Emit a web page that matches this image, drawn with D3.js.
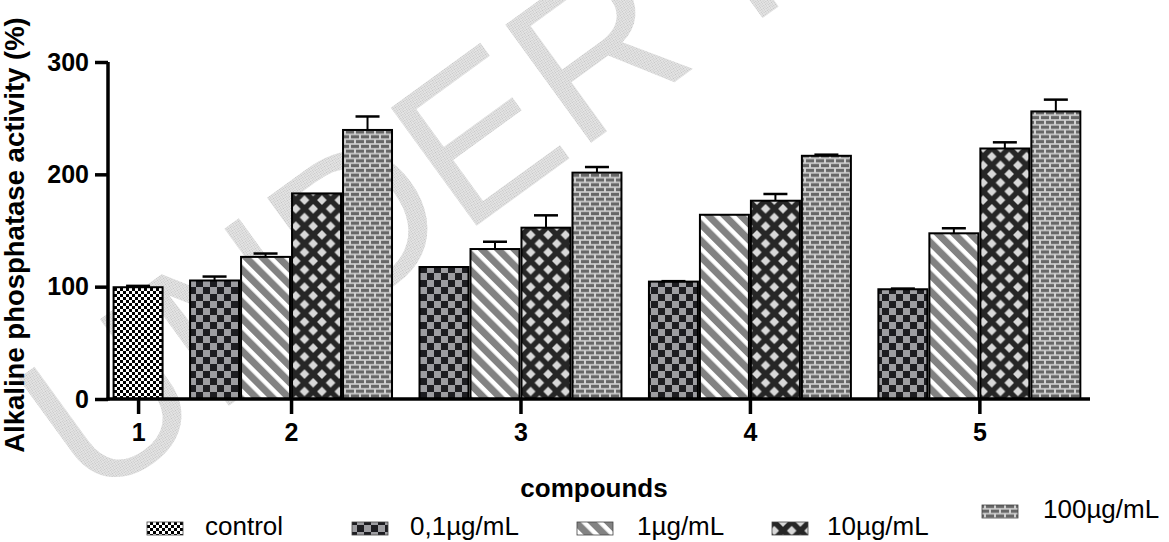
<!DOCTYPE html>
<html>
<head>
<meta charset="utf-8">
<script src="https://cdn.jsdelivr.net/npm/d3@7"></script>
<style>
  html, body { margin: 0; padding: 0; background: #fff; }
  svg { display: block; font-family: "Liberation Sans", Arial, sans-serif; }
</style>
</head>
<body>
<svg id="chart" width="1169" height="542"></svg>
<script>
// ---------------- data ----------------
const compounds = ["1", "2", "3", "4", "5"];
const seriesNames = ["control", "0,1µg/mL", "1µg/mL", "10µg/mL", "100µg/mL"];
// control only measured for compound 1
const controlValues = [99.5, null, null, null, null];
const controlErrors = [1.2, null, null, null, null];
const conc01Values = [null, 105.5, 117.5, 104.5, 97.7];
const conc01Errors = [null, 3.5, 0, 0.4, 0.6];
const conc1Values = [null, 126.5, 133.5, 164, 147.5];
const conc1Errors = [null, 3, 6.5, 0, 4.5];
const conc10Values = [null, 183, 152.5, 176.5, 223];
const conc10Errors = [null, 0, 11, 6, 5.5];
const conc100Values = [null, 239.5, 201.5, 216.5, 256];
const conc100Errors = [null, 12, 5, 1, 10.5];
const yTicks = [0, 100, 200, 300];
const xTitle = "compounds";
const yTitle = "Alkaline phosphatase activity (%)";
const watermark = "UNDER PEER REVIEW";

const seriesValues = [controlValues, conc01Values, conc1Values, conc10Values, conc100Values];
const seriesErrors = [controlErrors, conc01Errors, conc1Errors, conc10Errors, conc100Errors];
const patternIds = ["pControl", "pChecker", "pStripe", "pDiamond", "pBrick"];

// flatten into bar slots (unit positions along x)
const bars = [];
const groupCenters = [];
let pos = 0;
compounds.forEach((c, ci) => {
  const start = pos;
  seriesNames.forEach((s, si) => {
    const v = seriesValues[si][ci];
    if (v !== null && v !== undefined) {
      bars.push({ compound: c, series: si, value: v, err: seriesErrors[si][ci], unit: pos });
      pos += 1;
    }
  });
  groupCenters.push({ label: c, unit: (start + pos) / 2 });
  pos += 0.5; // gap between compounds
});
const totalUnits = pos - 0.5;

// ---------------- layout ----------------
const svg = d3.select("#chart");
const axisX0 = 108, axisX1 = 1090, axisY0 = 399, axisY1 = 62;

const x = d3.scaleLinear().domain([-0.09, totalUnits + 0.17]).range([axisX0, axisX1]);
const y = d3.scaleLinear().domain([0, 300]).range([axisY0, axisY1]);
const unitPx = x(1) - x(0);
const barPad = 1;

// ---------------- patterns ----------------
const defs = svg.append("defs");
// watermark stipple
const pw = defs.append("pattern").attr("id", "pWater").attr("patternUnits", "userSpaceOnUse")
  .attr("width", 2).attr("height", 2);
pw.append("rect").attr("width", 2).attr("height", 2).attr("fill", "#e4e4e4");
pw.append("rect").attr("width", 1).attr("height", 1).attr("fill", "#c2c2c2");

// control: fine black/white checker
const p0 = defs.append("pattern").attr("id", "pControl").attr("patternUnits", "userSpaceOnUse")
  .attr("width", 6).attr("height", 6);
p0.append("rect").attr("width", 6).attr("height", 6).attr("fill", "#fff");
p0.append("rect").attr("width", 3).attr("height", 3).attr("fill", "#000");
p0.append("rect").attr("x", 3).attr("y", 3).attr("width", 3).attr("height", 3).attr("fill", "#000");

// 0,1: dark / gray checker
const p1 = defs.append("pattern").attr("id", "pChecker").attr("patternUnits", "userSpaceOnUse")
  .attr("width", 14).attr("height", 14);
p1.append("rect").attr("width", 14).attr("height", 14).attr("fill", "#9d9da1");
p1.append("rect").attr("width", 7).attr("height", 7).attr("fill", "#1d1d21");
p1.append("rect").attr("x", 7).attr("y", 7).attr("width", 7).attr("height", 7).attr("fill", "#1d1d21");

// 1: diagonal stripes "\"
const p2 = defs.append("pattern").attr("id", "pStripe").attr("patternUnits", "userSpaceOnUse")
  .attr("width", 11.5).attr("height", 11.5).attr("patternTransform", "rotate(-45)");
p2.append("rect").attr("width", 11.5).attr("height", 11.5).attr("fill", "#fff");
p2.append("rect").attr("width", 7).attr("height", 11.5).attr("fill", "#828282");

// 10: dark with light diamonds
const dS = 17.4, dH = 4.8;
const p3 = defs.append("pattern").attr("id", "pDiamond").attr("patternUnits", "userSpaceOnUse")
  .attr("width", dS).attr("height", dS);
p3.append("rect").attr("width", dS).attr("height", dS).attr("fill", "#262626");
[[0, 0], [dS, 0], [0, dS], [dS, dS], [dS / 2, dS / 2]].forEach(([cx, cy]) => {
  p3.append("path").attr("d", `M${cx},${cy - dH}L${cx + dH},${cy}L${cx},${cy + dH}L${cx - dH},${cy}Z`)
    .attr("fill", "#d8d8d8");
});

// 100: bricks
const bW = 20, bHt = 9.6;
const p4 = defs.append("pattern").attr("id", "pBrick").attr("patternUnits", "userSpaceOnUse")
  .attr("width", bW).attr("height", bHt);
p4.append("rect").attr("width", bW).attr("height", bHt).attr("fill", "#d0d0d0");
[[1, 0.8], [11, 0.8], [-4, 5.6], [6, 5.6], [16, 5.6]].forEach(([bx, by]) => {
  p4.append("rect").attr("x", bx).attr("y", by).attr("width", 8).attr("height", 3.2).attr("fill", "#676767");
});

// ---------------- watermark ----------------
svg.append("text")
  .attr("transform", "translate(91,506) rotate(-36)")
  .attr("font-size", 212)
  .attr("fill", "url(#pWater)")
  .text(watermark);

// ---------------- bars ----------------
const barG = svg.append("g");
barG.selectAll("rect.bar").data(bars).enter().append("rect")
  .attr("class", "bar")
  .attr("x", d => x(d.unit) + barPad)
  .attr("width", unitPx - 2 * barPad)
  .attr("y", d => y(d.value))
  .attr("height", d => y(0) - y(d.value))
  .attr("fill", d => `url(#${patternIds[d.series]})`)
  .attr("stroke", "#000")
  .attr("stroke-width", 2);

// error bars (upper only)
const errBars = bars.filter(d => d.err > 0);
const capW = 24;
barG.selectAll("line.err").data(errBars).enter().append("line")
  .attr("x1", d => x(d.unit + 0.5)).attr("x2", d => x(d.unit + 0.5))
  .attr("y1", d => y(d.value)).attr("y2", d => y(d.value + d.err))
  .attr("stroke", "#000").attr("stroke-width", 2);
barG.selectAll("line.cap").data(errBars).enter().append("line")
  .attr("x1", d => x(d.unit + 0.5) - capW / 2).attr("x2", d => x(d.unit + 0.5) + capW / 2)
  .attr("y1", d => y(d.value + d.err)).attr("y2", d => y(d.value + d.err))
  .attr("stroke", "#000").attr("stroke-width", 2.5);

// ---------------- axes ----------------
const yAxis = d3.axisLeft(y).tickValues(yTicks).tickSize(13).tickPadding(6).tickFormat(d3.format("d"));
const gy = svg.append("g").attr("transform", `translate(${axisX0},0)`).call(yAxis);
gy.select(".domain").attr("stroke-width", 3.5).attr("d", `M0,${axisY1}V${axisY0 + 1.5}`);
gy.selectAll(".tick line").attr("stroke-width", 3.5);
gy.selectAll(".tick text").attr("font-size", 25).attr("font-weight", "bold")
  .attr("font-family", "'Liberation Sans', Arial, sans-serif").attr("fill", "#000");

const xAxis = d3.axisBottom(x)
  .tickValues(groupCenters.map(g => g.unit))
  .tickFormat((d, i) => groupCenters[i].label)
  .tickSize(15).tickPadding(9);
const gx = svg.append("g").attr("transform", `translate(0,${axisY0})`).call(xAxis);
gx.select(".domain").attr("stroke-width", 3.5).attr("d", `M${axisX0 - 1.5},0H${axisX1}`);
gx.selectAll(".tick line").attr("stroke-width", 3.5);
gx.selectAll(".tick text").attr("font-size", 25).attr("font-weight", "bold")
  .attr("font-family", "'Liberation Sans', Arial, sans-serif").attr("fill", "#000");

// axis titles
svg.append("text")
  .attr("x", 594).attr("y", 497)
  .attr("text-anchor", "middle")
  .attr("font-size", 26).attr("font-weight", "bold")
  .text(xTitle);

svg.append("text")
  .attr("transform", "translate(24,235) rotate(-90)")
  .attr("text-anchor", "middle")
  .attr("font-size", 27.5).attr("font-weight", "bold")
  .text(yTitle);

// ---------------- legend ----------------
const legendX = [147, 352, 577, 772, 982];
const legendTextX = [205, 410, 637, 827, 1043];
const legendRowY = [535, 535, 535, 535, 518];
const lg = svg.append("g");
seriesNames.forEach((s, i) => {
  lg.append("rect")
    .attr("x", legendX[i]).attr("y", legendRowY[i] - 13)
    .attr("width", 36).attr("height", 13)
    .attr("fill", `url(#${patternIds[i]})`)
    .attr("stroke", "#444").attr("stroke-width", 0.8);
  lg.append("text")
    .attr("x", legendTextX[i]).attr("y", legendRowY[i])
    .attr("font-size", 26)
    .text(s);
});
</script>
</body>
</html>
